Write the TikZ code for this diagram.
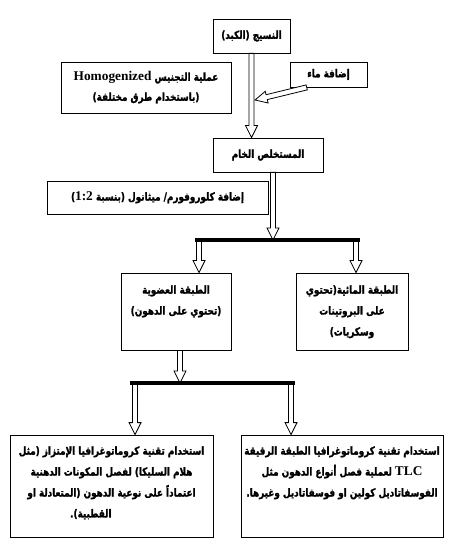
\documentclass[tikz,border=0pt]{standalone}
\usepackage{fontspec}
\usetikzlibrary{calc}
\TeXXeTstate=1
\newfontfamily\arfont[Script=Arabic,FakeStretch=0.8,FakeBold=1.6]{DejaVu Sans Bold}
\newfontfamily\latfont{Liberation Serif Bold}
\newcommand\AR[1]{\beginR#1\endR}
\newcommand\LT[1]{\beginL{\latfont\fontsize{10}{15}\selectfont #1}\endL{}}
\newcommand\harrow[2]{%
  \coordinate (hb) at ($(#2)!9pt!(#1)$);
  \draw[hollow] ($(#1)!1.9pt!90:(#2)$) -- ($(hb)!1.9pt!90:(#2)$) -- ($(hb)!4.5pt!90:(#2)$) -- (#2)
     -- ($(hb)!4.5pt!-90:(#2)$) -- ($(hb)!1.9pt!-90:(#2)$) -- ($(#1)!1.9pt!-90:(#2)$) -- cycle;}
\begin{document}
\begin{tikzpicture}[x=0.75pt,y=-0.75pt,
  box/.style={draw, line width=0.6pt, inner sep=0pt, font=\arfont\fontsize{8.3}{15}\selectfont, align=center},
  txt/.style={inner sep=0pt, font=\arfont\fontsize{8.3}{15.7}\selectfont, align=center},
  hollow/.style={draw, fill=white, line width=0.6pt, line join=miter},
  bar/.style={line width=2.3pt}]
\useasboundingbox (0,0) rectangle (475,555);
% boxes
\node[box, minimum width=57.75pt, minimum height=25.5pt] (n1) at (251.5,36) {\AR{النسيج (الكبد)}};
\node[box, minimum width=127.5pt, minimum height=38.25pt] (n2) at (146,87.5)
  {\AR{عملية التجنيس \LT{Homogenized}}\\\AR{(باستخدام طرق مختلفة)}};
\node[box, minimum width=57.75pt, minimum height=18.75pt] (n3) at (328.5,74.5) {\AR{إضافة ماء}};
\node[box, minimum width=82.5pt, minimum height=25.5pt] (n4) at (268,155) {\AR{المستخلص الخام}};
\node[box, minimum width=165.75pt, minimum height=24.75pt] (n5) at (157.5,197.5)
  {\AR{إضافة كلوروفورم/ ميثانول (بنسبة \LT{1:2})}};
\node[box, minimum width=82.5pt, minimum height=57.75pt] (n6) at (176,311.5) {};
\node[box, minimum width=84pt, minimum height=57.75pt] (n7) at (352,311.5) {};
\node[box, minimum width=152.25pt, minimum height=76.5pt] (n8) at (111.5,486) {};
\node[box, minimum width=151.5pt, minimum height=76.5pt] (n9) at (342,486) {};
% texts of tall boxes
\node[txt, anchor=north] (t6) at (176,285) {\AR{الطبقة العضوية}\\\AR{(تحتوي على الدهون)}};
\node[txt, anchor=north] (t7) at (352,285) {\AR{الطبقة المائية(تحتوي}\\\AR{على البروتينات}\\\AR{وسكريات)}};
\node[txt, anchor=north] (t8) at (111.5,446) {\AR{استخدام تقنية كروماتوغرافيا الإمتزاز (مثل}\\\AR{هلام السليكا) لفصل المكونات الدهنية}\\\AR{اعتماداً على نوعية الدهون (المتعادلة او}\\\hbox to 62pt{\AR{القطبية).}\hfil}};
\node[txt, anchor=north] (t9) at (342,446) {\AR{استخدام تقنية كروماتوغرافيا الطبقة الرقيقة}\\\AR{\LT{TLC} لعملية فصل أنواع الدهون مثل}\\\AR{الفوسفاتاديل كولين او فوسفاتاديل وغيرها.}};
% junction coordinates
\coordinate (a1e) at (n1.south |- n4.north);
\coordinate (a2s) at ($(n3.south west)!0.22!(n3.south east)$);
\coordinate (a2e) at (255,100);
\coordinate (a3s) at ($(n4.south)+(5,0)$);
\coordinate (b1l) at (195,240);
\coordinate (b1r) at (360,240);
\coordinate (a3e) at (a3s |- b1l);
\coordinate (a4s) at (199,240);
\coordinate (a4e) at (a4s |- n6.north);
\coordinate (a5s) at (356,240);
\coordinate (a5e) at (a5s |- n7.north);
\coordinate (a6s) at ($(n6.south)+(4,0)$);
\coordinate (b2l) at (130,383);
\coordinate (b2r) at (295,383);
\coordinate (a6e) at (a6s |- b2l);
\coordinate (a7s) at (135,383);
\coordinate (a7e) at (a7s |- n8.north);
\coordinate (a8s) at (291,383);
\coordinate (a8e) at (a8s |- n9.north);
% arrows
\harrow{n1.south}{a1e}
\harrow{a2s}{a2e}
\harrow{a3s}{a3e}
\harrow{a4s}{a4e}
\harrow{a5s}{a5e}
\harrow{a6s}{a6e}
\harrow{a7s}{a7e}
\harrow{a8s}{a8e}
% bars
\draw[bar] (b1l) -- (b1r);
\draw[bar] (b2l) -- (b2r);
\end{tikzpicture}
\end{document}
